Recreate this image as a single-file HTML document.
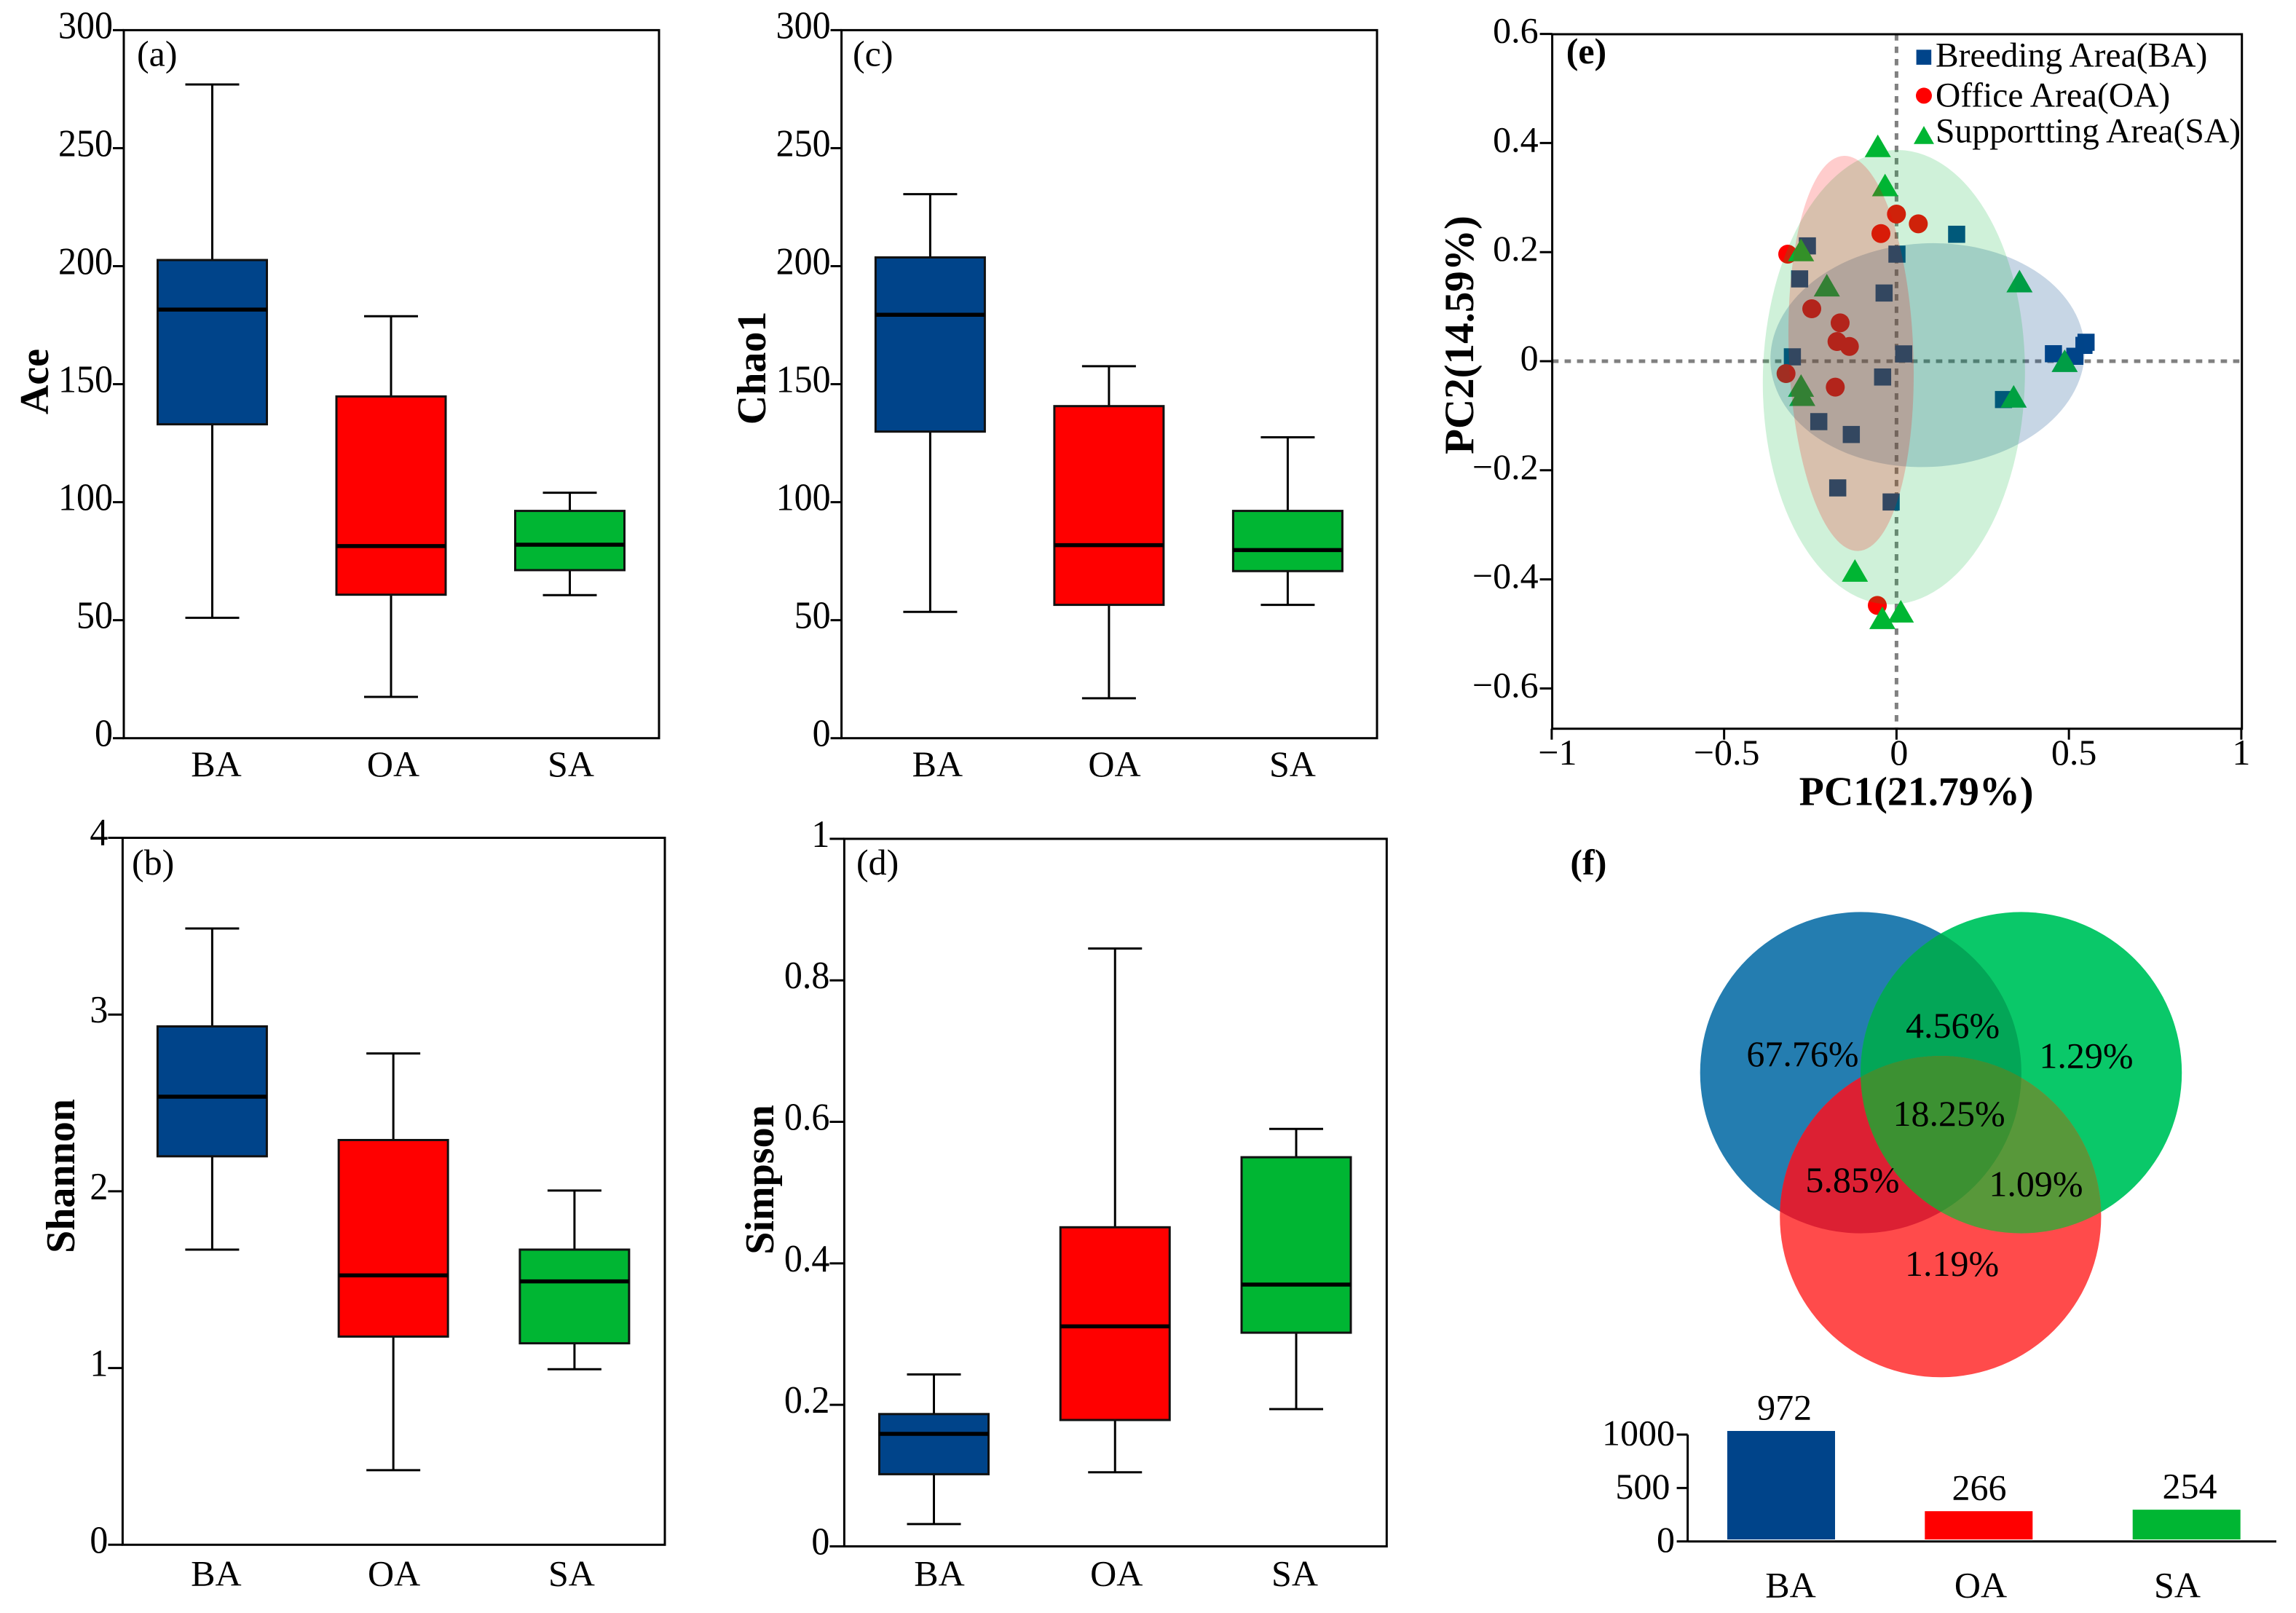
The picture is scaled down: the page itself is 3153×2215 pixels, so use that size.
<!DOCTYPE html>
<html lang="en">
<head>
<meta charset="utf-8">
<title>Alpha diversity, PCA and Venn comparison of breeding, office and supporting areas</title>
<style>
html,body{margin:0;padding:0;background:#fff;}
svg{display:block;}
text{font-family:"Liberation Serif",serif;fill:#000;}
</style>
</head>
<body>
<svg id="figure" xmlns="http://www.w3.org/2000/svg" width="3153" height="2215" viewBox="0 0 3153 2215">
<rect width="3153" height="2215" fill="#fff"/>
</svg>
<script>
// ---------- shared categories ----------
const categories = ['BA', 'OA', 'SA'];

// ---------- panel (a) Ace ----------
const aceTicks = [0, 50, 100, 150, 200, 250, 300];
const aceMax = [277, 178.8, 104];
const aceQ3 = [202.6, 144.8, 96.3];
const aceMedian = [181.6, 81.4, 82];
const aceQ1 = [133, 60.8, 71.2];
const aceMin = [51, 17.5, 60.6];

// ---------- panel (c) Chao1 ----------
const chaoTicks = [0, 50, 100, 150, 200, 250, 300];
const chaoMax = [230.5, 157.6, 127.5];
const chaoQ3 = [203.7, 140.7, 96.3];
const chaoMedian = [179.4, 81.8, 79.7];
const chaoQ1 = [129.9, 56.5, 70.8];
const chaoMin = [53.5, 16.9, 56.5];

// ---------- panel (b) Shannon ----------
const shannonTicks = [0, 1, 2, 3, 4];
const shannonMax = [3.487, 2.78, 2.004];
const shannonQ3 = [2.933, 2.29, 1.67];
const shannonMedian = [2.535, 1.524, 1.49];
const shannonQ1 = [2.198, 1.178, 1.14];
const shannonMin = [1.67, 0.422, 0.993];

// ---------- panel (d) Simpson ----------
const simpsonTicks = [0, 0.2, 0.4, 0.6, 0.8, 1];
const simpsonMax = [0.243, 0.845, 0.59];
const simpsonQ3 = [0.187, 0.451, 0.55];
const simpsonMedian = [0.159, 0.311, 0.37];
const simpsonQ1 = [0.102, 0.1786, 0.302];
const simpsonMin = [0.0315, 0.1047, 0.194];

// ---------- panel (e) PCA ----------
const pcaXTicks = [-1, -0.5, 0, 0.5, 1];
const pcaYTicks = [-0.6, -0.4, -0.2, 0, 0.2, 0.4, 0.6];
const baPc1 = [-0.2585, -0.281, 0.0013, 0.1744, -0.036, -0.302, 0.0209, -0.0403, 0.3103, -0.2254, -0.1311, -0.1705, -0.0156, 0.4551, 0.5172, 0.5436, 0.5497];
const baPc2 = [0.2114, 0.1509, 0.1963, 0.2327, 0.125, 0.008, 0.0134, -0.029, -0.0703, -0.1108, -0.1344, -0.2323, -0.2581, 0.0137, 0.009, 0.029, 0.0347];
const oaPc1 = [-0.0002, 0.0632, -0.0452, -0.3155, -0.2458, -0.1635, -0.1726, -0.1367, -0.3204, -0.1776, -0.0557];
const oaPc2 = [0.2697, 0.2519, 0.234, 0.1963, 0.0961, 0.0703, 0.036, 0.0271, -0.0227, -0.0476, -0.4477];
const saPc1 = [-0.0543, -0.0332, -0.2769, -0.2021, 0.3567, 0.4877, -0.2769, -0.2733, 0.3398, -0.1206, 0.0125, -0.041];
const saPc2 = [0.3948, 0.3231, 0.2039, 0.1393, 0.1469, 0.0009, -0.0445, -0.0614, -0.0645, -0.3836, -0.4584, -0.4704];
const baEllipse = [0.09, 0.0111, 0.456, 0.205];
const oaEllipse = [-0.1318, 0.0143, 0.1806, 0.3625];
const saEllipse = [-0.0076, -0.0294, 0.38, 0.4166];

// ---------- panel (f) Venn + bars ----------
const vennBaOnly = '67.76%';
const vennBaSa = '4.56%';
const vennSaOnly = '1.29%';
const vennAll = '18.25%';
const vennBaOa = '5.85%';
const vennOaSa = '1.09%';
const vennOaOnly = '1.19%';
const barTicks = [0, 500, 1000];
const barValues = [1034, 283, 297];
const barPrinted = ['972', '266', '254'];

// ---------- helpers ----------
const SVGNS = 'http://www.w3.org/2000/svg';
const root = document.getElementById('figure');
const BLUE = '#00448A', RED = '#FF0000', GREEN = '#00B633';
const fills = [BLUE, RED, GREEN];

function mk(tag, attrs, name, parent, interactable) {
  const el = document.createElementNS(SVGNS, tag);
  for (const k in attrs) el.setAttribute(k, attrs[k]);
  
  
  (parent || root).appendChild(el);
  return el;
}
function txt(str, x, y, size, anchor, bold, name, parent, rot, stretch) {
  const a = {x: x, y: y, 'font-size': size, 'text-anchor': anchor || 'start'};
  if (bold) a['font-weight'] = 'bold';
  if (rot) a.transform = 'rotate(' + rot + ' ' + x + ' ' + y + ')';
  if (stretch) a.transform = 'translate(0 ' + y + ') scale(1 ' + stretch + ') translate(0 ' + (-y) + ')';
  const t = mk('text', a, name, parent);
  t.textContent = str;
  return t;
}
function line(x1, y1, x2, y2, w, color, name, parent) {
  return mk('line', {x1: x1, y1: y1, x2: x2, y2: y2, stroke: color || '#000', 'stroke-width': w}, name, parent);
}
function linear(d0, d1, r0, r1) {
  return function (v) { return r0 + (v - d0) / (d1 - d0) * (r1 - r0); };
}
function fmt(v) { return String(v).replace('-', '\u2212'); }

// ---------- box-plot panel ----------
function boxPanel(cfg) {
  const g = mk('g', {}, cfg.id + '-panel');
  const y = linear(cfg.yMin, cfg.yMax, cfg.bottom, cfg.top);
  const x = function (i) { return cfg.left + cfg.firstOffset + cfg.step * i; };
  const boxW = 150, capHalf = 37;

  categories.forEach(function (c, i) {
    const cx = x(i);
    const bg = mk('g', {}, cfg.id + '-box-' + c.toLowerCase(), g);
    line(cx, y(cfg.max[i]), cx, y(cfg.q3[i]), 3, '#000', 'upper-whisker', bg);
    line(cx, y(cfg.q1[i]), cx, y(cfg.min[i]), 3, '#000', 'lower-whisker', bg);
    line(cx - capHalf, y(cfg.max[i]), cx + capHalf, y(cfg.max[i]), 3, '#000', 'upper-cap', bg);
    line(cx - capHalf, y(cfg.min[i]), cx + capHalf, y(cfg.min[i]), 3, '#000', 'lower-cap', bg);
    mk('rect', {x: cx - boxW / 2, y: y(cfg.q3[i]), width: boxW, height: y(cfg.q1[i]) - y(cfg.q3[i]), fill: fills[i], stroke: '#111', 'stroke-width': 3}, 'interquartile-box', bg);
    line(cx - boxW / 2, y(cfg.median[i]), cx + boxW / 2, y(cfg.median[i]), 5.5, '#000', 'median-line', bg);
    txt(c, cx + cfg.labelDx[i], cfg.xLabelY, 50, 'middle', false, 'x-tick-label', g);
  });

  mk('rect', {x: cfg.left, y: cfg.top, width: cfg.right - cfg.left, height: cfg.bottom - cfg.top, fill: 'none', stroke: '#000', 'stroke-width': 3}, cfg.id + '-frame', g);

  cfg.ticks.forEach(function (t) {
    const ty = y(t);
    line(cfg.left - cfg.tickLen, ty, cfg.left, ty, 3, '#000', 'y-tick', g);
    const extra = (t === cfg.yMax && cfg.topLabelDy) ? cfg.topLabelDy : 0;
    txt(String(t), cfg.left - cfg.tickLen, ty + 11 + extra, 50, 'end', false, 'y-tick-label', g, 0, 1.05);
  });

  txt(cfg.title, cfg.titleX, cfg.titleY, 56, 'middle', true, 'y-axis-title', g, -90);
  txt(cfg.tag, cfg.tagX, cfg.tagY, 50, 'start', false, 'panel-label', g);
}

boxPanel({id: 'ace', title: 'Ace', tag: '(a)', left: 170, right: 905, top: 41.4, bottom: 1013.7,
  yMin: 0, yMax: 300, ticks: aceTicks, max: aceMax, q3: aceQ3, median: aceMedian, q1: aceQ1, min: aceMin,
  firstOffset: 121.5, step: 245.5, tickLen: 15, xLabelY: 1066, labelDx: [5.5, 3, 1.5],
  titleX: 66, titleY: 524, tagX: 188, tagY: 90.6});

boxPanel({id: 'chao1', title: 'Chao1', tag: '(c)', left: 1155.6, right: 1891, top: 41.4, bottom: 1013.7,
  yMin: 0, yMax: 300, ticks: chaoTicks, max: chaoMax, q3: chaoQ3, median: chaoMedian, q1: chaoQ1, min: chaoMin,
  firstOffset: 121.8, step: 245.5, tickLen: 15, xLabelY: 1066, labelDx: [10, 7.6, 6.5],
  titleX: 1051, titleY: 505.4, tagX: 1171, tagY: 90.6});

boxPanel({id: 'shannon', title: 'Shannon', tag: '(b)', left: 168.4, right: 913, top: 1150.5, bottom: 2121.3,
  yMin: 0, yMax: 4, ticks: shannonTicks, max: shannonMax, q3: shannonQ3, median: shannonMedian, q1: shannonQ1, min: shannonMin,
  firstOffset: 123, step: 248.75, tickLen: 20, xLabelY: 2177.5, labelDx: [5.5, 1, -4], topLabelDy: -1,
  titleX: 102, titleY: 1615, tagX: 181, tagY: 1201});

boxPanel({id: 'simpson', title: 'Simpson', tag: '(d)', left: 1159.4, right: 1904.3, top: 1151.9, bottom: 2123.5,
  yMin: 0, yMax: 1, ticks: simpsonTicks, max: simpsonMax, q3: simpsonQ3, median: simpsonMedian, q1: simpsonQ1, min: simpsonMin,
  firstOffset: 123.1, step: 248.75, tickLen: 20, xLabelY: 2177.5, labelDx: [7.5, 2, -2],
  titleX: 1062, titleY: 1620, tagX: 1176, tagY: 1201});

// ---------- PCA panel ----------
(function () {
  const g = mk('g', {}, 'pca-panel');
  const L = 2131.6, R = 3078.7, T = 47, B = 1000.7;
  const x = linear(-1, 1, 2604.4 - 473.5, 2604.4 + 473.5);
  const y = linear(-1, 1, 496 + 749, 496 - 749);

  line(L, y(0), R, y(0), 5, '#808080', 'zero-line-horizontal', g).setAttribute('stroke-dasharray', '8.7 8.3');
  line(x(0), T, x(0), B, 5, '#808080', 'zero-line-vertical', g).setAttribute('stroke-dasharray', '8.7 8.3');

  const sq = 23.5;
  baPc1.forEach(function (v, i) {
    mk('rect', {x: x(v) - sq / 2, y: y(baPc2[i]) - sq / 2, width: sq, height: sq, fill: BLUE}, 'ba-point', g);
  });
  oaPc1.forEach(function (v, i) {
    mk('circle', {cx: x(v), cy: y(oaPc2[i]), r: 13, fill: RED}, 'oa-point', g);
  });
  saPc1.forEach(function (v, i) {
    const px = x(v), py = y(saPc2[i]);
    mk('polygon', {points: (px - 18) + ',' + (py + 15.5) + ' ' + (px + 18) + ',' + (py + 15.5) + ' ' + px + ',' + (py - 15.5), fill: GREEN}, 'sa-point', g);
  });

  function ellipse(e, color, alpha, rot, name) {
    const cx = x(e[0]), cy = y(e[1]);
    mk('ellipse', {cx: cx, cy: cy, rx: x(e[2]) - x(0), ry: y(0) - y(e[3]), fill: color, 'fill-opacity': alpha, transform: 'rotate(' + rot + ' ' + cx + ' ' + cy + ')'}, name, g);
  }
  ellipse(baEllipse, BLUE, 0.22, -3, 'ba-confidence-ellipse');
  ellipse(saEllipse, GREEN, 0.19, 1.2, 'sa-confidence-ellipse');
  ellipse(oaEllipse, RED, 0.2, -2.1, 'oa-confidence-ellipse');

  mk('rect', {x: L, y: T, width: R - L, height: B - T, fill: 'none', stroke: '#000', 'stroke-width': 3}, 'pca-frame', g);

  pcaYTicks.forEach(function (t) {
    line(L - 17, y(t), L, y(t), 3, '#000', 'y-tick', g);
    txt(fmt(t), L - 19, y(t) + 12, 50, 'end', false, 'y-tick-label', g);
  });
  const xLabelDx = [8, 3.5, 3.5, 7, 0];
  pcaXTicks.forEach(function (t, i) {
    line(x(t), B, x(t), B + 15, 3, '#000', 'x-tick', g);
    txt(fmt(t), x(t) + xLabelDx[i], 1050, 50, 'middle', false, 'x-tick-label', g);
  });

  txt('PC1(21.79%)', 2631.6, 1105.7, 56, 'middle', true, 'x-axis-title', g);
  txt('PC2(14.59%)', 2023, 460, 57, 'middle', true, 'y-axis-title', g, -90);
  txt('(e)', 2150.7, 87, 50, 'start', true, 'panel-label', g);

  const lg = mk('g', {}, 'pca-legend', g);
  const e1 = mk('g', {}, 'legend-entry-ba', lg, true);
  mk('rect', {x: 2631.6, y: 68.3, width: 20.6, height: 20.6, fill: BLUE}, 'legend-swatch-ba', e1);
  txt('Breeding Area(BA)', 2658, 91.4, 47.5, 'start', false, 'legend-label-ba', e1);
  const e2 = mk('g', {}, 'legend-entry-oa', lg, true);
  mk('circle', {cx: 2642, cy: 131.4, r: 11, fill: RED}, 'legend-swatch-oa', e2);
  txt('Office Area(OA)', 2658, 146.4, 47.5, 'start', false, 'legend-label-oa', e2);
  const e3 = mk('g', {}, 'legend-entry-sa', lg, true);
  mk('polygon', {points: '2628,197.7 2656,197.7 2642,173', fill: GREEN}, 'legend-swatch-sa', e3);
  txt('Supportting Area(SA)', 2658, 195.7, 47.6, 'start', false, 'legend-label-sa', e3);
})();

// ---------- Venn diagram ----------
(function () {
  const g = mk('g', {}, 'venn-diagram');
  const R = 220.6;
  const defs = mk('defs', {}, 'venn-clip-defs', g);
  const cp = [['clipBA', 2555.3, 1473], ['clipSA', 2775.6, 1473], ['clipOA', 2664.8, 1670.7]];
  cp.forEach(function (c) {
    const clip = mk('clipPath', {id: c[0]}, c[0], defs);
    mk('circle', {cx: c[1], cy: c[2], r: R}, c[0] + '-circle', clip);
  });
  mk('circle', {cx: 2555.3, cy: 1473, r: R, fill: '#247DB0'}, 'venn-circle-ba', g);
  mk('circle', {cx: 2775.6, cy: 1473, r: R, fill: '#0AC869'}, 'venn-circle-sa', g);
  mk('circle', {cx: 2664.8, cy: 1670.7, r: R, fill: '#FF4B4B'}, 'venn-circle-oa', g);

  const gBS = mk('g', {'clip-path': 'url(#clipBA)'}, 'venn-overlap-ba-sa', g);
  mk('circle', {cx: 2775.6, cy: 1473, r: R, fill: '#03A657'}, 'overlap-fill', gBS);
  const gBO = mk('g', {'clip-path': 'url(#clipBA)'}, 'venn-overlap-ba-oa', g);
  mk('circle', {cx: 2664.8, cy: 1670.7, r: R, fill: '#DC2033'}, 'overlap-fill', gBO);
  const gSO = mk('g', {'clip-path': 'url(#clipSA)'}, 'venn-overlap-sa-oa', g);
  mk('circle', {cx: 2664.8, cy: 1670.7, r: R, fill: '#58983A'}, 'overlap-fill', gSO);
  const gA = mk('g', {'clip-path': 'url(#clipBA)'}, 'venn-overlap-all', g);
  const gA2 = mk('g', {'clip-path': 'url(#clipSA)'}, 'venn-overlap-all-inner', gA);
  mk('circle', {cx: 2664.8, cy: 1670.7, r: R, fill: '#3C9132'}, 'overlap-fill', gA2);

  txt(vennBaOnly, 2475.4, 1464, 50, 'middle', false, 'venn-label-ba-only', g);
  txt(vennBaSa, 2681.6, 1425, 50, 'middle', false, 'venn-label-ba-sa', g);
  txt(vennSaOnly, 2865, 1466.6, 50, 'middle', false, 'venn-label-sa-only', g);
  txt(vennAll, 2676.6, 1546, 50, 'middle', false, 'venn-label-all', g);
  txt(vennBaOa, 2544, 1637, 50, 'middle', false, 'venn-label-ba-oa', g);
  txt(vennOaSa, 2796, 1642.5, 50, 'middle', false, 'venn-label-oa-sa', g);
  txt(vennOaOnly, 2680.6, 1752, 50, 'middle', false, 'venn-label-oa-only', g);
  txt('(f)', 2156.4, 1201, 50, 'start', true, 'panel-label', g);
})();

// ---------- bar chart ----------
(function () {
  const g = mk('g', {}, 'otu-bar-chart');
  const y = linear(0, 1000, 2116.7, 1970);
  const L = 2317.6, R = 3126;
  const slotLeft = [2372, 2643.3, 2928.7];
  const barW = 148;
  const labelX = [2450.6, 2718, 3007];
  const catX = [2459, 2720, 2990];
  const tickRight = [2300, 2293.4, 2300];
  categories.forEach(function (c, i) {
    const top = y(barValues[i]);
    mk('rect', {x: slotLeft[i], y: top, width: barW, height: y(0) - 2.7 - top, fill: fills[i]}, 'bar-' + c.toLowerCase(), g);
    txt(barPrinted[i], labelX[i], top - 15.5, 50, 'middle', false, 'bar-value-label', g);
    txt(c, catX[i], 2193.5, 50, 'middle', false, 'x-tick-label', g);
  });
  line(L, y(1000), L, y(0), 3, '#000', 'y-axis-line', g);
  line(L, y(0), R, y(0), 3, '#000', 'x-axis-line', g);
  barTicks.forEach(function (t, i) {
    line(L - 15, y(t), L, y(t), 3, '#000', 'y-tick', g);
    txt(String(t), tickRight[i], y(t) + 14.5, 50, 'end', false, 'y-tick-label', g);
  });
})();
</script>
</body>
</html>
